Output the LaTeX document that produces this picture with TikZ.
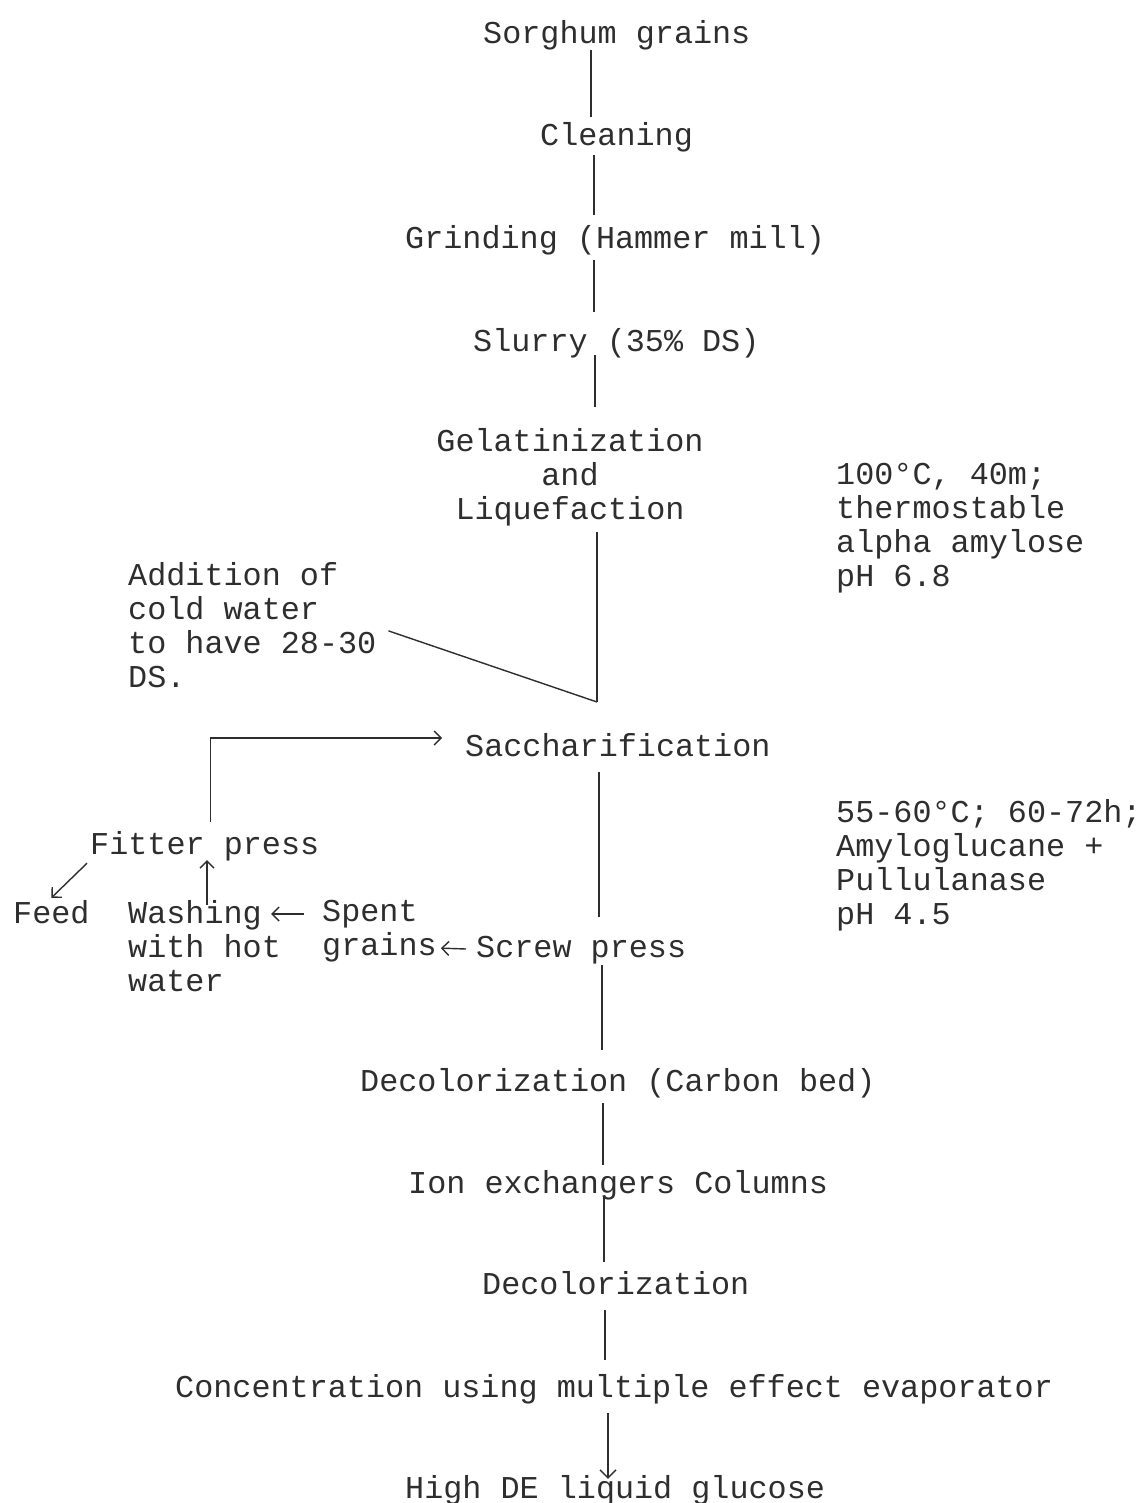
\documentclass[tikz,border=0pt]{standalone}
\usepackage{fontspec}
\newfontfamily\monofnt{Liberation Mono}
\usetikzlibrary{arrows.meta}
\begin{document}
\begin{tikzpicture}[x=1pt,y=-1pt,
  ink/.style={black!82},
  txt/.style={ink, inner sep=0pt, anchor=base west, text height=22pt, text depth=6pt,
    font=\monofnt\fontsize{31.8}{34}\selectfont},
  blk/.style={ink, inner sep=0pt, anchor=north west, align=left,
    font=\monofnt\fontsize{31.8}{34}\selectfont},
  ln/.style={ink, line width=1.4pt},
  arr/.style={ln, -{Straight Barb[length=7pt,width=14pt]}}]
\useasboundingbox (0,0) rectangle (1144,1503);
% main chain
\node[txt] (sorghum) at (483,44) {Sorghum grains};
\node[txt] (cleaning) at (540,146) {Cleaning};
\node[txt] (grinding) at (405,249) {Grinding (Hammer mill)};
\node[txt] (slurry) at (473,351) {Slurry (35\% DS)};
\node[blk, anchor=north, align=center] (gel) at (570,428) {Gelatinization\\and\\Liquefaction};
\node[blk] (addition) at (128,562) {Addition of\\cold water\\to have 28-30\\DS.};
\node[blk] (cond1) at (836,463) {100°C, 40m;\\thermostable\\alpha amylose\\pH 6.8};
\node[txt] (sacch) at (465,756) {Saccharification};
\node[blk] (cond2) at (836,799) {55-60°C; 60-72h;\\Amyloglucane +\\Pullulanase\\pH 4.5};
\node[txt] (fitter) at (90,854) {Fitter press};
\node[txt] (feed) at (13,923) {Feed};
\node[blk] (washing) at (128,900) {Washing\\with hot\\water};
\node[blk] (spent) at (322,900) {Spent\\grains};
\node[txt] (screw) at (476,957) {Screw press};
\node[txt] (decol1) at (360,1091) {Decolorization (Carbon bed)};
\node[txt] (ion) at (408,1193) {Ion exchangers Columns};
\node[txt] (decol2) at (482,1294) {Decolorization};
\node[txt] (conc) at (175,1397) {Concentration using multiple effect evaporator};
\node[txt] (high) at (405,1498) {High DE liquid glucose};
\coordinate (apex) at (597,702);
% connectors of the main chain
\draw[ln] (sorghum.south -| 591,0) -- ([yshift=7pt]cleaning.north -| 591,0);
\draw[ln] ([yshift=-3pt]cleaning.south -| 594,0) -- ([yshift=12pt]grinding.north -| 594,0);
\draw[ln] ([yshift=-5pt]grinding.south -| 594,0) -- ([yshift=17pt]slurry.north -| 594,0);
\draw[ln] ([yshift=2pt]slurry.south -| 595,0) -- ([yshift=21pt]gel.north -| 595,0);
\draw[ln] ([yshift=-6pt]gel.south -| 597,0) -- (apex);
\draw[ln] ([xshift=12pt,yshift=-6pt]addition.east) -- (apex);
\draw[ln] ([yshift=-10pt]sacch.south -| 599,0) -- ([yshift=18pt]screw.north -| 599,0);
\draw[ln] ([yshift=-2pt]screw.south -| 602,0) -- ([yshift=19pt]decol1.north -| 602,0);
\draw[ln] ([yshift=-6pt]decol1.south -| 603,0) -- ([yshift=6pt]ion.north -| 603,0);
\draw[ln] ([yshift=2pt]ion.south -| 604,0) -- ([yshift=10pt]decol2.north -| 604,0);
\draw[ln] ([yshift=-10pt]decol2.south -| 605,0) -- ([yshift=15pt]conc.north -| 605,0);
\draw[ln, -{Straight Barb[length=8pt,width=16pt]}] ([yshift=-10pt]conc.south -| 608,0) -- ([yshift=-3pt]high.north -| 608,0);
% recycle loop
\draw[arr] ([xshift=5.5pt,yshift=10pt]fitter.north) |- ([xshift=-23pt,yshift=10pt]sacch.west);
\draw[arr] ([xshift=-3pt,yshift=-3pt]fitter.south west) -- ([yshift=3pt]feed.north);
\draw[arr] ([yshift=-5pt]washing.north -| 207,0) -- (fitter.south -| 207,0);
\draw[arr] ([xshift=-18pt,yshift=-14pt]spent.north west) -- ([xshift=-10pt,yshift=-14pt]washing.north east);
\draw[arr] ([xshift=-10pt]screw.west) -- ([xshift=4pt,yshift=-17pt]spent.east);
\end{tikzpicture}
\end{document}
